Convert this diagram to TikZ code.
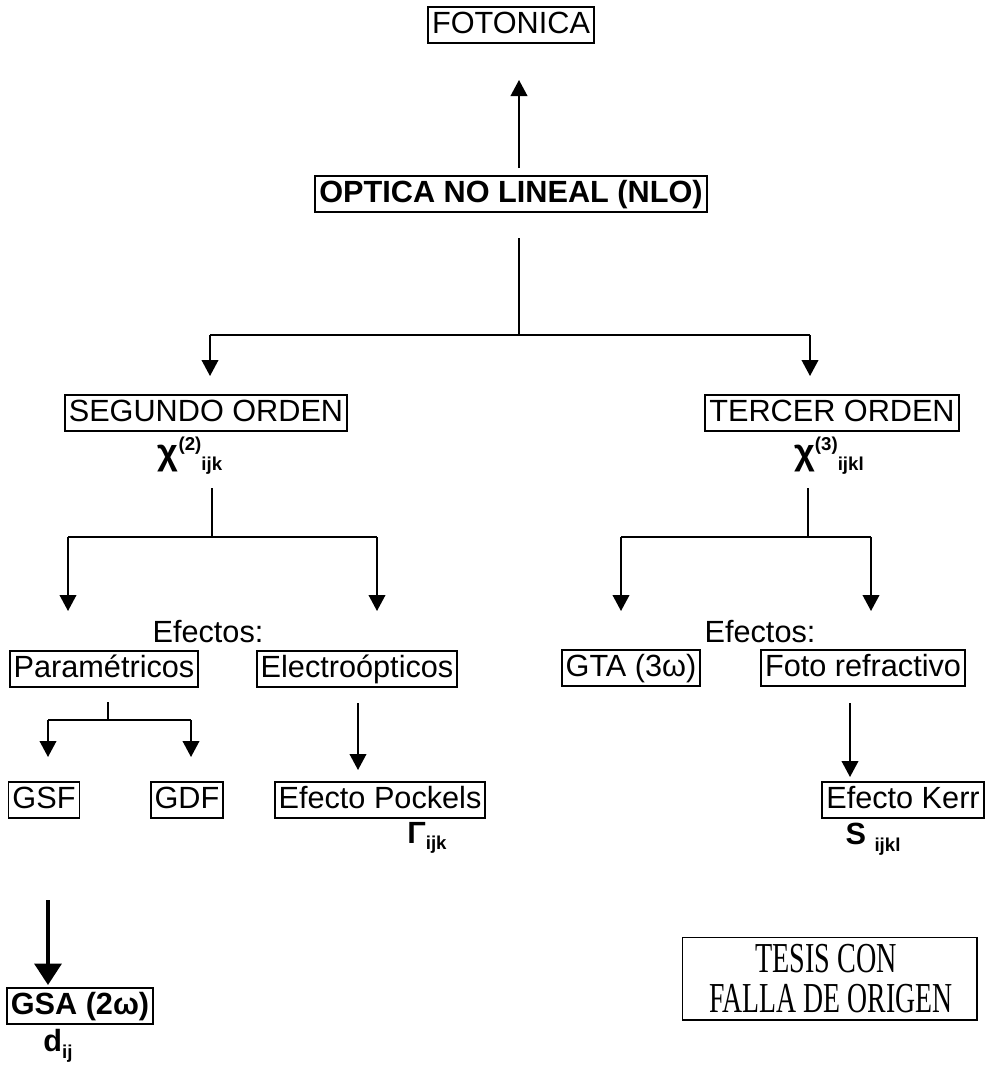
\documentclass[tikz,border=0pt]{standalone}
\usepackage{fontspec}
\usepackage{graphicx}
\setmainfont{Liberation Sans}
\newfontfamily\stampfont{Liberation Serif}
\usetikzlibrary{arrows.meta}
\newcommand{\subsc}[1]{\raisebox{-5pt}{\fontsize{14}{14}\selectfont\bfseries #1}}
\newcommand{\supsc}[1]{\raisebox{10pt}{\fontsize{14}{14}\selectfont\bfseries #1}}
\begin{document}
\begin{tikzpicture}[x=0.75pt,y=-0.75pt,
  box/.style={draw, line width=1.4pt, inner xsep=3pt, inner ysep=2.5pt,
    text height=17pt, text depth=5pt, font=\fontsize{23}{27}\selectfont},
  bbox/.style={box, font=\fontsize{23}{27}\selectfont\bfseries},
  lbl/.style={inner sep=0pt, font=\fontsize{23}{27}\selectfont},
  blbl/.style={inner sep=0pt, font=\fontsize{23}{27}\selectfont\bfseries},
  chil/.style={inner sep=0pt, font=\fontsize{27}{30}\selectfont\bfseries},
  ln/.style={line width=1.3pt},
  arr/.style={ln, -{Triangle[width=12.5pt,length=12pt]}},
  bigarr/.style={line width=3pt, -{Triangle[width=20pt,length=16pt]}}]
\useasboundingbox (0,0) rectangle (988,1067);

% nodes
\node[box]  (fot) at (511,25)  {FOTONICA};
\node[bbox] (nlo) at (511,194) {OPTICA NO LINEAL (NLO)};
\node[box]  (seg) at (206,413) {SEGUNDO ORDEN};
\node[box]  (ter) at (832,413) {TERCER ORDEN};
\node[chil] (chi2) at (190,456) {χ\supsc{(2)}\subsc{ijk}};
\node[chil] (chi3) at (829,456) {χ\supsc{(3)}\subsc{ijkl}};
\node[lbl]  (ef1) at (208,632) {Efectos:};
\node[lbl]  (ef2) at (760,632) {Efectos:};
\node[box]  (par) at (104,669) {Paramétricos};
\node[box]  (ele) at (357,669) {Electroópticos};
\node[box]  (gta) at (631,668) {GTA (3ω)};
\node[box]  (frf) at (863,668) {Foto refractivo};
\node[box]  (gsf) at (44,800)  {GSF};
\node[box]  (gdf) at (187,800) {GDF};
\node[box]  (poc) at (380,800) {Efecto Pockels};
\node[box]  (ker) at (903,800) {Efecto Kerr};
\node[blbl] (gam) at (427,838) {Γ\subsc{ijk}};
\node[blbl] (sk)  at (873,839) {S \subsc{ijkl}};
\node[bbox] (gsa) at (80,1006) {GSA (2ω)};
\node[blbl] (dij) at (58,1046) {d\subsc{ij}};
\node[draw, line width=1pt, minimum width=221pt, minimum height=62pt, inner sep=0pt] (stamp) at (829.5,978.5) {};
\node[inner sep=0pt] (st1) at (826,959) {\stampfont\scalebox{0.66}[1]{\fontsize{32}{34}\selectfont TESIS CON}};
\node[inner sep=0pt] (st2) at (831,999) {\stampfont\scalebox{0.65}[1]{\fontsize{32}{34}\selectfont FALLA DE ORIGEN}};

% coordinates for connectors
\coordinate (t0) at (519,168);
\coordinate (t1) at (519,80);
\coordinate (m0) at (519,238);
\coordinate (m1) at (519,335);
\coordinate (mL) at (210,335);
\coordinate (mR) at (810,335);
\coordinate (mLe) at (210,376);
\coordinate (mRe) at (810,376);
\coordinate (l0) at (212,488);
\coordinate (l1) at (212,537);
\coordinate (lL) at (68,537);
\coordinate (lR) at (377,537);
\coordinate (lLe) at (68,611);
\coordinate (lRe) at (377,611);
\coordinate (r0) at (808,488);
\coordinate (r1) at (808,537);
\coordinate (rL) at (621,537);
\coordinate (rR) at (871,537);
\coordinate (rLe) at (621,611);
\coordinate (rRe) at (871,611);
\coordinate (p0) at (108,702);
\coordinate (p1) at (108,720);
\coordinate (pL) at (48,720);
\coordinate (pR) at (191,720);
\coordinate (pLe) at (48,757);
\coordinate (pRe) at (191,757);
\coordinate (e0) at (358,703);
\coordinate (e1) at (358,770);
\coordinate (f0) at (850,703);
\coordinate (f1) at (850,777);
\coordinate (g0) at (48,900);
\coordinate (g1) at (48,985);

% connectors
\draw[arr] (t0) -- (t1);
\draw[ln] (m0) -- (m1);
\draw[ln] (mL) -- (mR);
\draw[arr] (mL) -- (mLe);
\draw[arr] (mR) -- (mRe);
\draw[ln] (l0) -- (l1);
\draw[ln] (lL) -- (lR);
\draw[arr] (lL) -- (lLe);
\draw[arr] (lR) -- (lRe);
\draw[ln] (r0) -- (r1);
\draw[ln] (rL) -- (rR);
\draw[arr] (rL) -- (rLe);
\draw[arr] (rR) -- (rRe);
\draw[ln] (p0) -- (p1);
\draw[ln] (pL) -- (pR);
\draw[arr] (pL) -- (pLe);
\draw[arr] (pR) -- (pRe);
\draw[arr] (e0) -- (e1);
\draw[arr] (f0) -- (f1);
\draw[bigarr] (g0) -- (g1);
\end{tikzpicture}
\end{document}
